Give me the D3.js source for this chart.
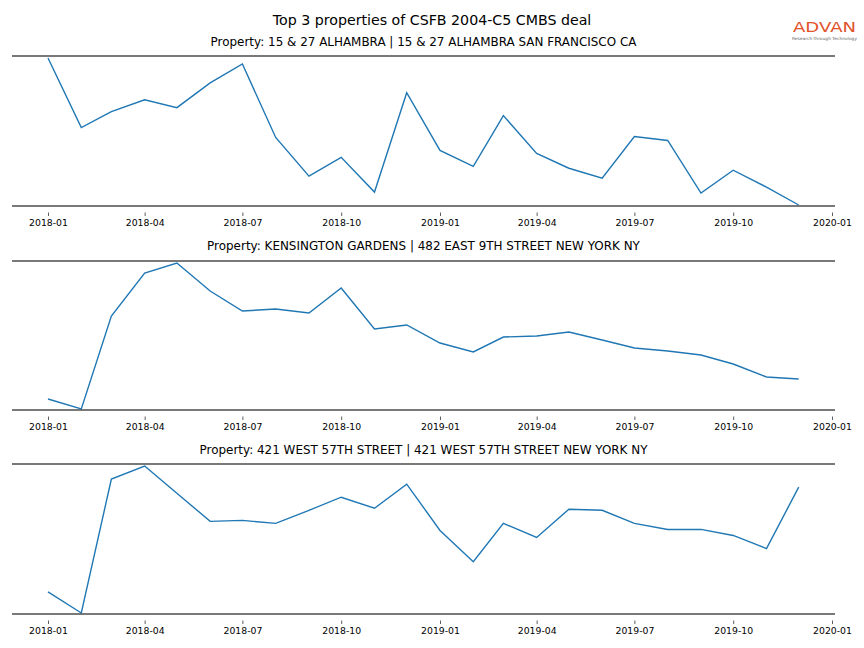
<!DOCTYPE html>
<html>
<head>
<meta charset="utf-8">
<script src="https://cdn.jsdelivr.net/npm/d3@7"></script>
<style>
  html, body { margin: 0; padding: 0; background: #fff; }
  svg { display: block; }
  text { font-family: "DejaVu Sans", sans-serif; }
</style>
</head>
<body>
<svg id="chart" width="864" height="648"></svg>
<script>
// ---- data ----
const months = ["2018-01","2018-02","2018-03","2018-04","2018-05","2018-06","2018-07","2018-08","2018-09","2018-10","2018-11","2018-12",
                "2019-01","2019-02","2019-03","2019-04","2019-05","2019-06","2019-07","2019-08","2019-09","2019-10","2019-11","2019-12"];
const titles = [
  "Property: 15 & 27 ALHAMBRA | 15 & 27 ALHAMBRA SAN FRANCISCO CA",
  "Property: KENSINGTON GARDENS | 482 EAST 9TH STREET NEW YORK NY",
  "Property: 421 WEST 57TH STREET | 421 WEST 57TH STREET NEW YORK NY"
];
const alhambra   = [149, 79, 95, 107, 99, 124, 143, 69, 30, 49, 14, 114, 56, 40, 91, 53, 38, 28, 70, 66, 13, 36, 19, 1];
const kensington = [11, 1, 94, 137, 147, 119, 99, 101, 97, 122, 81, 85, 67, 58, 73, 74, 78, 70, 62, 59, 55, 46, 33, 31];
const west57     = [22, 1, 134, 147, 120, 92, 93, 90, 103, 116, 105, 129, 83, 52, 90, 76, 104, 103, 90, 84, 84, 78, 65, 126];
const seriesList = [alhambra, kensington, west57];
const tickLabels = ["2018-01","2018-04","2018-07","2018-10","2019-01","2019-04","2019-07","2019-10","2020-01"];
const mainTitle = "Top 3 properties of CSFB 2004-C5 CMBS deal";

// ---- layout ----
const svg = d3.select("#chart");
const parse = d3.timeParse("%Y-%m");
const dates = months.map(parse);
const tickDates = tickLabels.map(parse);

const x = d3.scaleTime()
  .domain([parse("2018-01"), parse("2020-01")])
  .range([48, 832]);

const panels = [
  {top: 56, bottom: 206, titleY: 46},
  {top: 261, bottom: 410, titleY: 250},
  {top: 464, bottom: 614, titleY: 454}
];
const left = 12, right = 835;

svg.append("text")
  .attr("x", 432).attr("y", 24.5)
  .attr("text-anchor", "middle")
  .attr("font-size", 14.2)
  .attr("fill", "#000")
  .text(mainTitle);

panels.forEach((p, i) => {
  const vals = seriesList[i];
  const y = d3.scaleLinear().domain(d3.extent(vals)).range([p.bottom - 1, p.top + 2]);
  const g = svg.append("g");

  g.append("text")
    .attr("x", (left + right) / 2).attr("y", p.titleY)
    .attr("text-anchor", "middle")
    .attr("font-size", 11.95)
    .attr("fill", "#000")
    .text(titles[i]);

  const line = d3.line().x((d, j) => x(dates[j])).y(d => y(d));
  g.append("path")
    .datum(vals)
    .attr("d", line)
    .attr("fill", "none")
    .attr("stroke", "#1f77b4")
    .attr("stroke-width", 1.4)
    .attr("stroke-linejoin", "miter");

  // spines
  [p.top, p.bottom].forEach(yy => {
    g.append("line")
      .attr("x1", left).attr("x2", right)
      .attr("y1", yy).attr("y2", yy)
      .attr("stroke", "#4d4d4d")
      .attr("stroke-width", 1.6);
  });

  const axis = d3.axisBottom(x)
    .tickValues(tickDates)
    .tickFormat(d3.timeFormat("%Y-%m"))
    .tickSize(3.5)
    .tickPadding(3);
  const ag = g.append("g")
    .attr("transform", `translate(0,${p.bottom + 6.5})`)
    .call(axis);
  ag.select(".domain").remove();
  ag.selectAll(".tick line").attr("stroke", "#4d4d4d").attr("stroke-width", 0.9);
  ag.selectAll(".tick text")
    .attr("font-family", "DejaVu Sans, sans-serif")
    .attr("font-size", 9.3)
    .attr("fill", "#000");
});

// logo
const logo = svg.append("g");
logo.append("text")
  .attr("x", 793).attr("y", 31.5)
  .attr("font-size", 14.5)
  .attr("font-family", "Liberation Sans, Arial, sans-serif")
  .attr("fill", "#e0532b")
  .attr("textLength", 63)
  .attr("lengthAdjust", "spacingAndGlyphs")
  .text("ADVAN");
logo.append("text")
  .attr("x", 792).attr("y", 39.5)
  .attr("font-size", 4.2)
  .attr("fill", "#666")
  .attr("textLength", 65)
  .attr("lengthAdjust", "spacingAndGlyphs")
  .text("Research through Technology");
</script>
</body>
</html>
